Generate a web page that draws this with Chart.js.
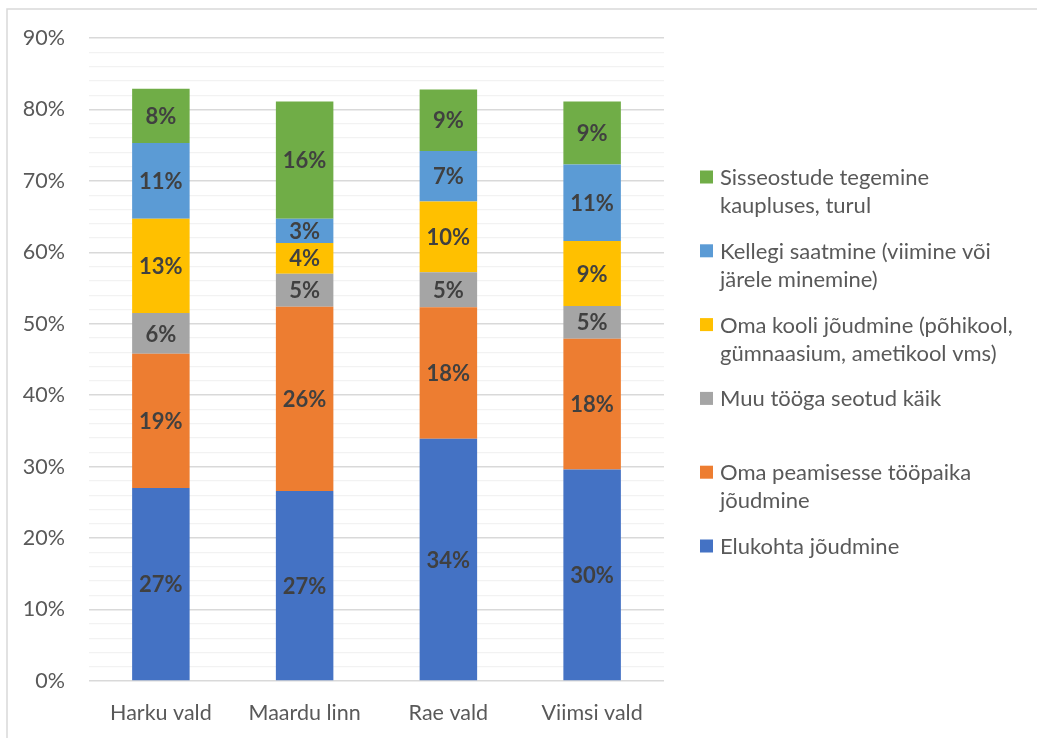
<!DOCTYPE html>
<html>
<head>
<meta charset="utf-8">
<script src="https://cdn.jsdelivr.net/npm/chart.js@4"></script>
<style>
  html, body { margin: 0; padding: 0; background: #ffffff; }
  #wrap { width: 1037px; height: 738px; }
</style>
</head>
<body>
<div id="wrap"><canvas id="tripChart" width="1037" height="738"></canvas></div>
<script>
// municipalities on the x axis
var places = ['Harku vald', 'Maardu linn', 'Rae vald', 'Viimsi vald'];

// trip purposes, bottom of the stack first ('\n' marks where legend text wraps)
var purposeNames = [
    'Elukohta jõudmine',
    'Oma peamisesse tööpaika\njõudmine',
    'Muu tööga seotud käik',
    'Oma kooli jõudmine (põhikool,\ngümnaasium, ametikool vms)',
    'Kellegi saatmine (viimine või\njärele minemine)',
    'Sisseostude tegemine\nkaupluses, turul'
];

// shares in percent, one array per purpose
var homeTrips     = [27.0, 26.6, 33.9, 29.6];
var workTrips     = [18.8, 25.8, 18.4, 18.3];
var otherWork     = [5.7, 4.6, 4.9, 4.6];
var schoolTrips   = [13.2, 4.3, 9.9, 9.1];
var escortTrips   = [10.6, 3.4, 7.1, 10.7];
var shoppingTrips = [7.6, 16.4, 8.6, 8.8];

var yTicks = [0, 10, 20, 30, 40, 50, 60, 70, 80, 90];

var seriesValues = [homeTrips, workTrips, otherWork, schoolTrips, escortTrips, shoppingTrips];
var seriesColors = ['#4472C4', '#ED7D31', '#A5A5A5', '#FFC000', '#5B9BD5', '#70AD47'];

var FONT = 'Lato, "Open Sans", sans-serif';
var TEXT_GREY = '#595959';

// light frame along the top and left edge
var framePlugin = {
    id: 'frame',
    beforeDraw: function (chart) {
        var ctx = chart.ctx;
        ctx.save();
        ctx.fillStyle = '#ffffff';
        ctx.fillRect(0, 0, chart.width, chart.height);
        ctx.strokeStyle = '#d9d9d9';
        ctx.lineWidth = 1.5;
        ctx.beginPath();
        ctx.moveTo(7, chart.height);
        ctx.lineTo(7, 9);
        ctx.lineTo(chart.width, 9);
        ctx.stroke();
        ctx.restore();
    }
};

// rounded percentage inside every segment
var segmentLabels = {
    id: 'segmentLabels',
    afterDatasetsDraw: function (chart) {
        var ctx = chart.ctx;
        ctx.save();
        ctx.font = 'bold 22px ' + FONT;
        ctx.fillStyle = '#404040';
        ctx.textAlign = 'center';
        ctx.textBaseline = 'middle';
        chart.data.datasets.forEach(function (ds, i) {
            chart.getDatasetMeta(i).data.forEach(function (bar, j) {
                var v = ds.data[j];
                ctx.fillText(Math.round(v) + '%', bar.x, (bar.y + bar.base) / 2 + 1);
            });
        });
        ctx.restore();
    }
};

// legend on the right, top item is the top of the stack
var sideLegend = {
    id: 'sideLegend',
    afterDraw: function (chart) {
        var ctx = chart.ctx;
        var area = chart.chartArea;
        var boxX = area.right + 36;
        var textX = boxX + 20;
        var firstY = 177;
        var step = 73.8;
        var lineGap = 28;
        ctx.save();
        ctx.font = '22px ' + FONT;
        ctx.textBaseline = 'middle';
        ctx.textAlign = 'left';
        var sets = chart.data.datasets.slice().reverse();
        sets.forEach(function (ds, k) {
            var y = firstY + k * step;
            ctx.fillStyle = ds.backgroundColor;
            ctx.fillRect(boxX, y - 6.5, 13, 13);
            ctx.fillStyle = TEXT_GREY;
            ds.label.split('\n').forEach(function (line, n) {
                ctx.fillText(line, textX, y + n * lineGap + 1);
            });
        });
        ctx.restore();
    }
};

var datasets = purposeNames.map(function (name, i) {
    return {
        label: name,
        data: seriesValues[i],
        backgroundColor: seriesColors[i],
        borderWidth: 0,
        barPercentage: 0.4,
        categoryPercentage: 1.0
    };
});

var ctx = document.getElementById('tripChart').getContext('2d');
var tripChart = new Chart(ctx, {
    type: 'bar',
    data: {
        labels: places,
        datasets: datasets
    },
    options: {
        responsive: false,
        animation: false,
        layout: {
            padding: { left: 0, top: 38, right: 373, bottom: 0 }
        },
        plugins: {
            legend: { display: false },
            tooltip: { enabled: false }
        },
        scales: {
            x: {
                stacked: true,
                grid: { display: false, drawTicks: false },
                border: { display: false },
                ticks: {
                    color: TEXT_GREY,
                    font: { family: FONT, size: 21.5 },
                    padding: 19
                },
                afterFit: function (scale) { scale.height = 57; }
            },
            y: {
                stacked: true,
                min: 0,
                max: 90,
                afterBuildTicks: function (scale) {
                    // 2% minor steps, labels only on the major ones
                    var t = [];
                    for (var v = 0; v <= 90; v += 2) t.push({ value: v });
                    scale.ticks = t;
                },
                grid: {
                    drawTicks: false,
                    lineWidth: function (c) {
                        return yTicks.indexOf(c.tick.value) >= 0 ? 1.5 : 1.2;
                    },
                    color: function (c) {
                        return yTicks.indexOf(c.tick.value) >= 0 ? '#d9d9d9' : '#f2f2f2';
                    }
                },
                border: { display: false },
                ticks: {
                    color: TEXT_GREY,
                    font: { family: FONT, size: 21.5 },
                    padding: 24,
                    autoSkip: false,
                    callback: function (value) {
                        return yTicks.indexOf(value) >= 0 ? value + '%' : '';
                    }
                },
                afterFit: function (scale) { scale.width = 89; }
            }
        }
    },
    plugins: [framePlugin, segmentLabels, sideLegend]
});
</script>
</body>
</html>
